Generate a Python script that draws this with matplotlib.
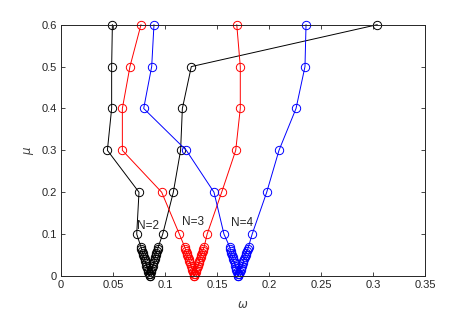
import numpy as np
import matplotlib
matplotlib.use('Agg')
import matplotlib.pyplot as plt

# coupling values (shared by both branches of every curve)
mu = [0.0, 0.005, 0.01, 0.015, 0.02, 0.025, 0.03, 0.035, 0.04, 0.045, 0.05,
      0.055, 0.06, 0.065, 0.07, 0.1, 0.2, 0.3, 0.4, 0.5, 0.6]

# lower / upper branch of omega for each N
w2_lower = [0.0852, 0.0846, 0.0840, 0.0834, 0.0828, 0.0822, 0.0816, 0.0810,
            0.0804, 0.0798, 0.0792, 0.0786, 0.0780, 0.0774, 0.0768,
            0.0728, 0.0750, 0.0446, 0.0487, 0.0487, 0.0494]
w2_upper = [0.0852, 0.0858, 0.0864, 0.0870, 0.0876, 0.0882, 0.0888, 0.0894,
            0.0900, 0.0906, 0.0912, 0.0918, 0.0924, 0.0930, 0.0936,
            0.0978, 0.1080, 0.1150, 0.1167, 0.1253, 0.3040]

w3_lower = [0.1282, 0.1275, 0.1268, 0.1262, 0.1255, 0.1248, 0.1242, 0.1235,
            0.1228, 0.1222, 0.1215, 0.1208, 0.1201, 0.1195, 0.1188,
            0.1138, 0.0968, 0.0590, 0.0590, 0.0663, 0.0769]
w3_upper = [0.1282, 0.1289, 0.1296, 0.1302, 0.1309, 0.1316, 0.1323, 0.1330,
            0.1336, 0.1343, 0.1350, 0.1357, 0.1363, 0.1370, 0.1377,
            0.1405, 0.1545, 0.1680, 0.1724, 0.1724, 0.1690]

w4_lower = [0.1705, 0.1699, 0.1693, 0.1687, 0.1681, 0.1675, 0.1669, 0.1663,
            0.1657, 0.1651, 0.1645, 0.1639, 0.1633, 0.1627, 0.1621,
            0.1567, 0.1471, 0.1205, 0.0795, 0.0872, 0.0894]
w4_upper = [0.1705, 0.1712, 0.1719, 0.1726, 0.1733, 0.1740, 0.1747, 0.1754,
            0.1761, 0.1768, 0.1775, 0.1782, 0.1789, 0.1796, 0.1803,
            0.1838, 0.1978, 0.2096, 0.2260, 0.2346, 0.2356]

labels = ['N=2', 'N=3', 'N=4']
colors = ['k', 'r', 'b']
label_pos = [(0.084, 0.119), (0.127, 0.128), (0.174, 0.127)]

xticks = [0, 0.05, 0.1, 0.15, 0.2, 0.25, 0.3, 0.35]
xticklabels = ['0', '0.05', '0.1', '0.15', '0.2', '0.25', '0.3', '0.35']
yticks = [0, 0.1, 0.2, 0.3, 0.4, 0.5, 0.6]
yticklabels = ['0', '0.1', '0.2', '0.3', '0.4', '0.5', '0.6']

plt.rcParams['font.family'] = ['Liberation Sans', 'DejaVu Sans']

fig = plt.figure(figsize=(4.68, 3.21), dpi=100)
ax = fig.add_axes([61 / 468, 45 / 321, 364 / 468, 251.3 / 321])

curves = [(w2_lower, w2_upper), (w3_lower, w3_upper), (w4_lower, w4_upper)]
mu_arr = np.array(mu)
for (lo, up), c in zip(curves, colors):
    x = np.concatenate([np.array(lo)[::-1], np.array(up)])
    y = np.concatenate([mu_arr[::-1], mu_arr])
    ax.plot(x, y, '-o', color=c, lw=0.7, markersize=6, markerfacecolor='none',
            markeredgewidth=0.7, clip_on=False)

for text, (tx, ty) in zip(labels, label_pos):
    ax.text(tx, ty, text, fontsize=8.5, ha='center', va='center', color='#262626')

ax.set_xlim(0, 0.35)
ax.set_ylim(0, 0.6)
ax.set_xticks(xticks)
ax.set_xticklabels(xticklabels)
ax.set_yticks(yticks)
ax.set_yticklabels(yticklabels)
ax.tick_params(direction='in', top=True, right=True, length=3, width=0.6,
               labelsize=8, colors='#262626', pad=3)
for s in ax.spines.values():
    s.set_linewidth(0.7)
    s.set_color('#262626')

ax.set_xlabel(r'$\omega$', fontsize=8.5, color='#404040', labelpad=6)
ax.set_ylabel(r'$\mu$', fontsize=8.5, color='#404040', labelpad=4)

fig.savefig('out.png', dpi=100)
plt.close(fig)
